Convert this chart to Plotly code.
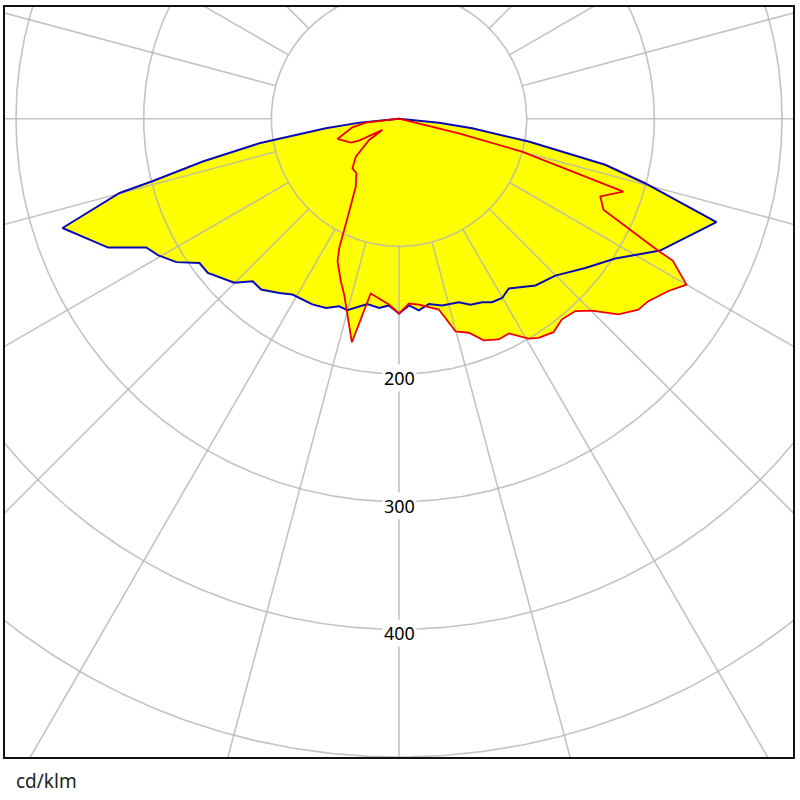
import numpy as np
import plotly.graph_objects as go

# C0-C180 plane (blue): gamma angle (deg, 0 = nadir, + right) and intensity (cd/klm)
blue_angle = [-90, -84.3, -82.5, -80, -77.7, -75.8, -75.1, -72.0, -66.1, -63.0, -60.5, -57.2,
              -54.1, -51.1, -45.1, -42.0, -38.9, -34.5, -31.2, -25.0, -21.1, -17.7, -15.1,
              -9.7, -6.0, -3.1, 0, 3.1, 5.9, 9.2, 13.0, 18.1, 21.0, 24.4, 26.9, 29.9, 32.9,
              39.3, 44.9, 51.3, 57.1, 60.4, 63.2, 71.95, 75.3, 77.4, 80, 82.5, 84.3, 90]
blue_value = [0, 31, 57.8, 111.1, 157.3, 198.8, 226.4, 277.1, 249.2, 222.1, 217, 207.4,
              192.9, 192.4, 182.1, 171.3, 172, 165.6, 161, 160.5, 158.9, 154.2, 155.3,
              147.2, 149, 146.5, 152.6, 146.5, 151, 147, 150.2, 151.2, 156, 157.8, 161.2, 162, 158.4,
              168.8, 173.5, 187, 201.7, 215.6, 229.1, 261.5, 199.2, 165.5, 103.1, 57.8, 31.4, 0]

# C90-C270 plane (red)
red_angle = [-90, -83.2, -79.4, -71.8, -63.6, -61.2, -55.9, -54.6, -48.7, -43.2, -38.0,
             -32.5, -27.4, -24.8, -23.3, -19.7, -17.3, -11.9, -9.2, -3.1, 0, 3.1, 6.1,
             11.8, 14.9, 18.1, 20.9, 24.3, 27.1, 30.5, 32.5, 35.9, 39.0, 42.5, 45.1, 48.3,
             51.4, 53.8, 57.4, 60.0, 62.6, 63.0, 66.0, 68.9, 72.0, 73.0, 75.0, 76.2, 76.4, 90]
red_value = [0, 26.2, 37.1, 50.8, 42.1, 35.7, 15.7, 28.7, 45, 53.3, 54.2,
             63, 87.7, 111.6, 121.7, 135.2, 144.3, 179, 138.7, 145.8, 152.6, 145, 146.4,
             152.7, 172.5, 176.4, 185.9, 189.7, 188.9, 200, 203.5, 206.4, 202.5, 204.4, 213, 230.3,
             239.8, 242, 250.5, 260, 241.5, 228.1, 175.3, 169, 184.8, 141.6, 99.7, 48.3, 32.2, 0]

ring_values = [100, 200, 300, 400, 500]
ring_labels = ["", "200", "300", "400", ""]
spoke_step = 15

def to_xy(angles, values):
    a = np.radians(np.array(angles, dtype=float))
    v = np.array(values, dtype=float)
    return v * np.sin(a), -v * np.cos(a)

bx, by = to_xy(blue_angle, blue_value)
rx, ry = to_xy(red_angle, red_value)

fig = go.Figure()
YEL = "#ffff00"
fig.add_trace(go.Scatter(x=bx, y=by, fill="toself", fillcolor=YEL, mode="none",
                         hoverinfo="skip", showlegend=False))
fig.add_trace(go.Scatter(x=rx, y=ry, fill="toself", fillcolor=YEL, mode="none",
                         hoverinfo="skip", showlegend=False))

# grid: rings and spokes (spokes start at the first ring)
GRID = "rgba(180,180,180,0.8)"
t = np.linspace(0, 2 * np.pi, 721)
gx, gy = [], []
for rv in ring_values:
    gx += list(rv * np.cos(t)) + [None]
    gy += list(rv * np.sin(t)) + [None]
for k in range(0, 360, spoke_step):
    a = np.radians(k)
    gx += [ring_values[0] * np.sin(a), 1000 * np.sin(a), None]
    gy += [-ring_values[0] * np.cos(a), -1000 * np.cos(a), None]
fig.add_trace(go.Scatter(x=gx, y=gy, mode="lines", line=dict(color=GRID, width=1.6),
                         hoverinfo="skip", showlegend=False))

fig.add_trace(go.Scatter(x=bx, y=by, mode="lines", line=dict(color="#0a0ab4", width=2),
                         showlegend=False))
fig.add_trace(go.Scatter(x=rx, y=ry, mode="lines", line=dict(color="#ee0000", width=1.8),
                         showlegend=False))

for rv, lab in zip(ring_values, ring_labels):
    if lab:
        fig.add_annotation(x=0, y=-rv, text=lab, showarrow=False, xref="x", yref="y",
                           yshift=-4, bgcolor="white", borderpad=1,
                           font=dict(family="Noto Sans", size=18, color="black"))

fig.add_annotation(x=0, y=0, xref="paper", yref="paper", text="cd/klm", showarrow=False,
                   xanchor="left", yanchor="middle", xshift=9, yshift=-24,
                   font=dict(family="Noto Sans", size=19, color="#222222"))

px = 1.28
fig.update_xaxes(range=[-395 / px, 395 / px], showgrid=False, zeroline=False, showticklabels=False,
                 ticks="", showline=True, mirror=True, linecolor="#111111", linewidth=1.5)
fig.update_yaxes(range=[-640 / px, 112 / px], showgrid=False, zeroline=False, showticklabels=False,
                 ticks="", showline=True, mirror=True, linecolor="#111111", linewidth=1.5)
fig.update_layout(width=800, height=800, margin=dict(l=5, r=5, t=5, b=43),
                  plot_bgcolor="white", paper_bgcolor="white")
fig.write_html("out.html", config={"displayModeBar": False},
               post_script="document.body.style.margin='0';document.body.style.overflow='hidden';")
